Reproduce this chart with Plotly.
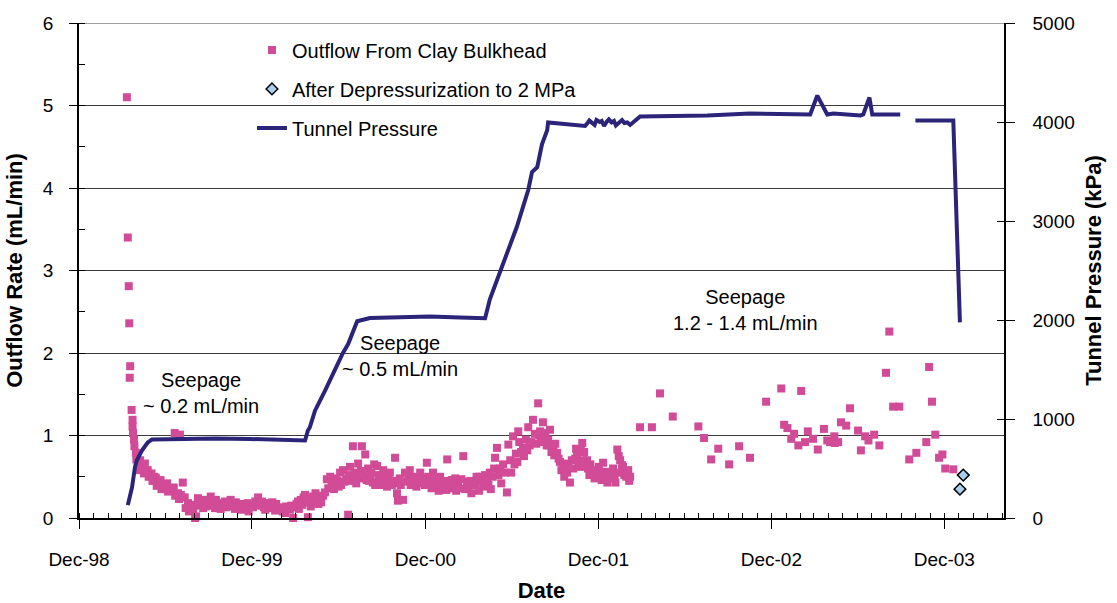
import pandas as pd
import plotly.graph_objects as go

# Elapsed time is recorded as days since 1 Dec 1998
DAY0 = pd.Timestamp("1998-12-01")

# Outflow from the clay bulkhead (mL/min)
outflow_day = [
    101, 103, 105, 106, 107, 108, 111, 113, 113, 114, 116, 117, 120, 121, 124, 126,
    129, 131, 135, 137, 139, 141, 145, 147, 153, 155, 158, 162, 164, 168, 172, 174,
    180, 186, 188, 194, 200, 202, 203, 209, 211, 213, 215, 219, 223, 225, 230, 232,
    237, 241, 245, 247, 251, 253, 259, 262, 266, 268, 276, 278, 282, 287, 289, 293,
    297, 299, 304, 308, 310, 314, 318, 320, 325, 329, 331, 336, 340, 342, 348, 352,
    356, 358, 362, 367, 372, 378, 380, 386, 390, 393, 395, 399, 403, 408, 414, 416,
    420, 424, 430, 435, 437, 441, 445, 448, 452, 456, 459, 462, 464, 468, 471, 474,
    477, 479, 483, 487, 489, 494, 496, 499, 502, 505, 509, 511, 515, 519, 523, 526,
    530, 533, 536, 538, 541, 545, 548, 551, 553, 557, 560, 564, 568, 570, 572, 574,
    578, 581, 583, 585, 589, 592, 595, 597, 600, 604, 607, 610, 612, 615, 617, 620,
    623, 625, 629, 632, 635, 638, 642, 645, 648, 650, 653, 656, 660, 663, 667, 671,
    673, 675, 677, 679, 684, 688, 692, 695, 698, 700, 704, 709, 712, 716, 720, 722,
    726, 730, 734, 737, 741, 744, 747, 749, 752, 756, 759, 762, 764, 768, 772, 775,
    777, 780, 783, 787, 790, 794, 796, 800, 804, 807, 811, 815, 819, 822, 826, 828,
    832, 836, 839, 842, 844, 846, 850, 853, 857, 861, 864, 867, 869, 873, 876, 878,
    882, 885, 889, 891, 895, 899, 903, 906, 910, 912, 916, 919, 922, 925, 927, 929,
    933, 937, 939, 943, 946, 948, 951, 954, 958, 962, 965, 969, 971, 973, 975, 979,
    981, 984, 987, 990, 992, 994, 997, 1001, 1003, 1005, 1009, 1012, 1015, 1018, 1022, 1024,
    1027, 1030, 1033, 1036, 1040, 1043, 1047, 1049, 1051, 1054, 1056, 1059, 1062, 1064, 1066, 1069,
    1072, 1074, 1077, 1079, 1082, 1085, 1088, 1091, 1093, 1097, 1100, 1103, 1106, 1110, 1112, 1115,
    1118, 1121, 1124, 1127, 1130, 1132, 1136, 1139, 1142, 1144, 1146, 1148, 1151, 1155, 1159, 1161,
    1163, 1184, 1209, 1226, 1253, 1307, 1319, 1334, 1349, 1372, 1393, 1416, 1450, 1482, 1488, 1495,
    1503, 1509, 1518, 1524, 1532, 1538, 1549, 1559, 1572, 1579, 1585, 1594, 1595, 1602, 1608, 1619,
    1627, 1644, 1650, 1659, 1666, 1678, 1689, 1703, 1710, 1718, 1731, 1752, 1767, 1788, 1794, 1800,
    1807, 1815, 1822, 1828, 1845,
]
outflow_rate = [
    5.10, 3.40, 2.81, 2.36, 1.70, 1.84, 1.31, 1.19, 1.11, 1.03, 0.95, 0.87, 0.79, 0.71, 0.66, 0.58,
    0.70, 0.60, 0.64, 0.54, 0.66, 0.56, 0.58, 0.50, 0.54, 0.45, 0.50, 0.49, 0.39, 0.44, 0.46, 0.35,
    0.40, 0.42, 0.32, 0.36, 0.37, 1.03, 0.27, 0.30, 0.23, 1.01, 0.28, 0.43, 0.25, 0.12, 0.18, 0.08,
    0.16, 0.10, 0.00, 0.02, 0.24, 0.15, 0.20, 0.12, 0.22, 0.14, 0.19, 0.26, 0.15, 0.12, 0.22, 0.16,
    0.18, 0.11, 0.15, 0.20, 0.13, 0.17, 0.15, 0.22, 0.14, 0.11, 0.19, 0.13, 0.17, 0.10, 0.15, 0.12,
    0.18, 0.08, 0.14, 0.13, 0.20, 0.25, 0.15, 0.20, 0.13, 0.10, 0.18, 0.12, 0.14, 0.19, 0.09, 0.17,
    0.13, 0.12, 0.08, 0.06, 0.14, 0.11, 0.10, 0.15, 0.00, 0.13, 0.17, 0.20, 0.11, 0.22, 0.16, 0.25,
    0.28, 0.19, 0.01, 0.24, 0.14, 0.26, 0.19, 0.30, 0.22, 0.17, 0.25, 0.19, 0.27, 0.31, 0.47, 0.36,
    0.50, 0.40, 0.42, 0.35, 0.48, 0.45, 0.38, 0.55, 0.40, 0.58, 0.44, 0.48, 0.04, 0.52, 0.62, 0.45,
    0.87, 0.50, 0.55, 0.42, 0.66, 0.48, 0.57, 0.87, 0.52, 0.77, 0.46, 0.60, 0.45, 0.50, 0.55, 0.43,
    0.65, 0.40, 0.63, 0.52, 0.47, 0.40, 0.58, 0.45, 0.50, 0.38, 0.46, 0.55, 0.40, 0.45, 0.73, 0.30,
    0.21, 0.42, 0.48, 0.40, 0.22, 0.55, 0.44, 0.52, 0.58, 0.40, 0.46, 0.50, 0.38, 0.45, 0.55, 0.42,
    0.48, 0.40, 0.67, 0.50, 0.45, 0.36, 0.55, 0.38, 0.46, 0.42, 0.33, 0.50, 0.35, 0.42, 0.45, 0.34,
    0.71, 0.44, 0.38, 0.46, 0.36, 0.48, 0.33, 0.42, 0.36, 0.47, 0.75, 0.35, 0.44, 0.37, 0.45, 0.30,
    0.41, 0.40, 0.50, 0.48, 0.33, 0.50, 0.44, 0.38, 0.52, 0.45, 0.40, 0.55, 0.35, 0.50, 0.60, 0.73,
    0.85, 0.52, 0.60, 0.42, 0.65, 0.55, 0.31, 0.89, 0.70, 0.55, 0.99, 0.65, 0.78, 0.68, 1.05, 0.92,
    0.80, 0.85, 0.75, 0.95, 0.82, 1.10, 0.88, 0.92, 1.19, 1.02, 0.90, 1.39, 1.00, 1.05, 0.95, 1.16,
    0.92, 1.03, 0.88, 0.95, 0.88, 1.07, 0.80, 0.85, 0.76, 0.90, 0.79, 0.72, 0.68, 0.58, 0.62, 0.50,
    0.66, 0.55, 0.62, 0.43, 0.70, 0.60, 0.72, 0.84, 0.76, 0.62, 0.68, 0.82, 0.91, 0.70, 0.80, 0.62,
    0.70, 0.60, 0.52, 0.65, 0.56, 0.55, 0.48, 0.58, 0.50, 0.62, 0.55, 0.46, 0.67, 0.48, 0.56, 0.43,
    0.50, 0.55, 0.48, 0.60, 0.52, 0.43, 0.83, 0.75, 0.70, 0.55, 0.64, 0.62, 0.52, 0.50, 0.58, 0.45,
    0.50, 1.10, 1.10, 1.51, 1.23, 1.11, 0.97, 0.71, 0.84, 0.65, 0.87, 0.73, 1.41, 1.57, 1.13, 1.09,
    0.96, 1.02, 0.88, 1.54, 0.92, 1.05, 0.96, 0.83, 1.08, 0.94, 0.92, 0.99, 0.91, 0.92, 1.16, 1.12,
    1.33, 1.06, 0.82, 0.99, 0.94, 1.01, 0.88, 1.76, 2.26, 1.35, 1.35, 0.71, 0.79, 0.92, 1.83, 1.41,
    1.01, 0.73, 0.77, 0.60, 0.59,
]

# Outflow measured after depressurization to 2 MPa (mL/min)
depress_day = [1859, 1866]
depress_rate = [0.35, 0.52]

# Tunnel pressure (kPa); None marks a break in the record
pressure_day = [
    103, 112, 118, 122, 133, 145, 154, 213, 287, 361, 424, 477, 483, 487, 498, 509,
    519, 536, 545, 557, 568, 578, 587, 614, 677, 741, 804, 857, 867, 884, 895, 910,
    924, 937, 948, 956, 967, 977, 988, 990, 1015, 1047, 1068, 1074, 1077, 1083, 1088, 1092,
    1099, 1103, 1108, 1114, 1118, 1124, 1129, 1133, 1140, 1146, 1151, 1157, 1163, 1184, 1326, 1416,
    1543, 1558, 1579, 1592, 1649, 1655, 1668, 1674, 1733, 1740, 1765, 1845, 1859,
]
pressure_kpa = [
    130, 311, 512, 582, 683, 763, 793, 798, 803, 798, 790, 783, 884, 914, 1084, 1185,
    1285, 1456, 1556, 1667, 1757, 1888, 1988, 2020, 2030, 2035, 2025, 2018, 2209, 2420, 2570, 2771,
    2942, 3142, 3313, 3494, 3544, 3775, 3916, 3996, 3985, 3965, 3960, 3995, 4015, 3990, 3970, 4020,
    4000, 4010, 3960, 4005, 4025, 3995, 4010, 3965, 4000, 4020, 3990, 3995, 3970, 4056, 4066, 4086,
    4076, 4267, 4076, 4086, 4066, 4076, 4247, 4076, 4076, None, 4016, 4016, 1976,
]

x_ticks_start = "1998-12-01"
x_range = ["1998-12-01", "2004-04-05"]


def to_dates(days):
    return DAY0 + pd.to_timedelta(days, unit="D")


FONT = "Liberation Sans, Arial, sans-serif"
PINK = "#d14b97"
NAVY = "#2b2479"
LIGHT_BLUE = "#a9cfee"

fig = go.Figure()

fig.add_trace(go.Scatter(
    x=to_dates(outflow_day), y=outflow_rate, mode="markers",
    name="Outflow From Clay Bulkhead", legendgroup="a",
    marker=dict(symbol="square", size=8, color=PINK, line=dict(width=0)),
    cliponaxis=False,
))
fig.add_trace(go.Scatter(
    x=to_dates(depress_day), y=depress_rate, mode="markers",
    name="After Depressurization to 2 MPa", legendgroup="b",
    marker=dict(symbol="diamond", size=9, color=LIGHT_BLUE,
                line=dict(width=1.5, color="black")),
    cliponaxis=False,
))
fig.add_trace(go.Scatter(
    x=to_dates(pressure_day), y=pressure_kpa, mode="lines",
    name="Tunnel Pressure", legendgroup="c", yaxis="y2",
    line=dict(color=NAVY, width=4), connectgaps=False,
))
# carrier for the inner half of the right-hand tick marks
fig.add_trace(go.Scatter(x=[], y=[], yaxis="y3", showlegend=False, hoverinfo="skip"))

seepage_notes = [
    ("1999-08-16", 1.52, "Seepage<br>~ 0.2 mL/min"),
    ("2000-10-08", 1.96, "Seepage<br>~ 0.5 mL/min"),
    ("2002-10-07", 2.52, "Seepage<br>1.2 - 1.4 mL/min"),
]
for xd, yv, txt in seepage_notes:
    fig.add_annotation(x=xd, y=yv, xref="x", yref="y", text=txt, showarrow=False,
                       font=dict(family=FONT, size=20, color="black"),
                       xanchor="center", yanchor="middle", align="center")

tick_font = dict(family=FONT, size=19, color="black")
title_font = dict(family=FONT, size=22, color="black")

fig.update_layout(
    width=1117, height=603,
    margin=dict(l=79, r=113, t=23, b=85, autoexpand=False),
    paper_bgcolor="white", plot_bgcolor="white",
    font=dict(family=FONT, color="black"),
    showlegend=True,
    legend=dict(
        x=0.187, y=0.985, xanchor="left", yanchor="top",
        bgcolor="rgba(0,0,0,0)", font=dict(family=FONT, size=20, color="black"),
        traceorder="grouped", tracegroupgap=10,
    ),
    xaxis=dict(
        type="date", range=x_range, tick0=x_ticks_start, dtick="M12",
        tickformat="%b-%y", ticks="outside", ticklen=9, tickwidth=1, tickcolor="black",
        minor=dict(dtick="M1", ticks="inside", ticklen=5, tickcolor="black", showgrid=False),
        showline=True, linecolor="black", linewidth=1.5, mirror=False, automargin=False,
        showgrid=False, zeroline=False, tickfont=tick_font, ticklabelstandoff=14,
        title=dict(text="<b>Date</b>", font=title_font, standoff=16),
    ),
    yaxis=dict(
        range=[0, 6], dtick=1, ticks="outside", ticklen=8, tickcolor="black",
        minor=dict(dtick=0.5, ticks="inside", ticklen=6, tickcolor="black", showgrid=False),
        showline=True, linecolor="black", linewidth=1.5, automargin=False,
        showgrid=True, gridcolor="#3c3c3c", gridwidth=1, zeroline=False,
        tickfont=tick_font, ticklabelstandoff=12,
        title=dict(text="<b>Outflow Rate (mL/min)</b>", font=title_font, standoff=14),
    ),
    yaxis2=dict(
        overlaying="y", side="right", anchor="x", range=[0, 5000], dtick=1000,
        ticks="outside", ticklen=9, tickcolor="black", automargin=False,
        showline=True, linecolor="black", linewidth=1.5,
        showgrid=False, zeroline=False, tickfont=tick_font, ticklabelstandoff=14,
        title=dict(text="<b>Tunnel Pressure (kPa)</b>", font=title_font, standoff=12),
    ),
    yaxis3=dict(
        overlaying="y", side="right", anchor="x", range=[0, 5000], dtick=1000,
        ticks="inside", ticklen=7, tickcolor="black", showticklabels=False,
        showline=False, showgrid=False, zeroline=False, automargin=False,
    ),
)

# top boundary at 6 mL/min
fig.add_shape(type="line", xref="paper", yref="y", x0=0, x1=1, y0=6, y1=6,
              line=dict(color="#3c3c3c", width=1), layer="below")

fig.write_html("out.html")
